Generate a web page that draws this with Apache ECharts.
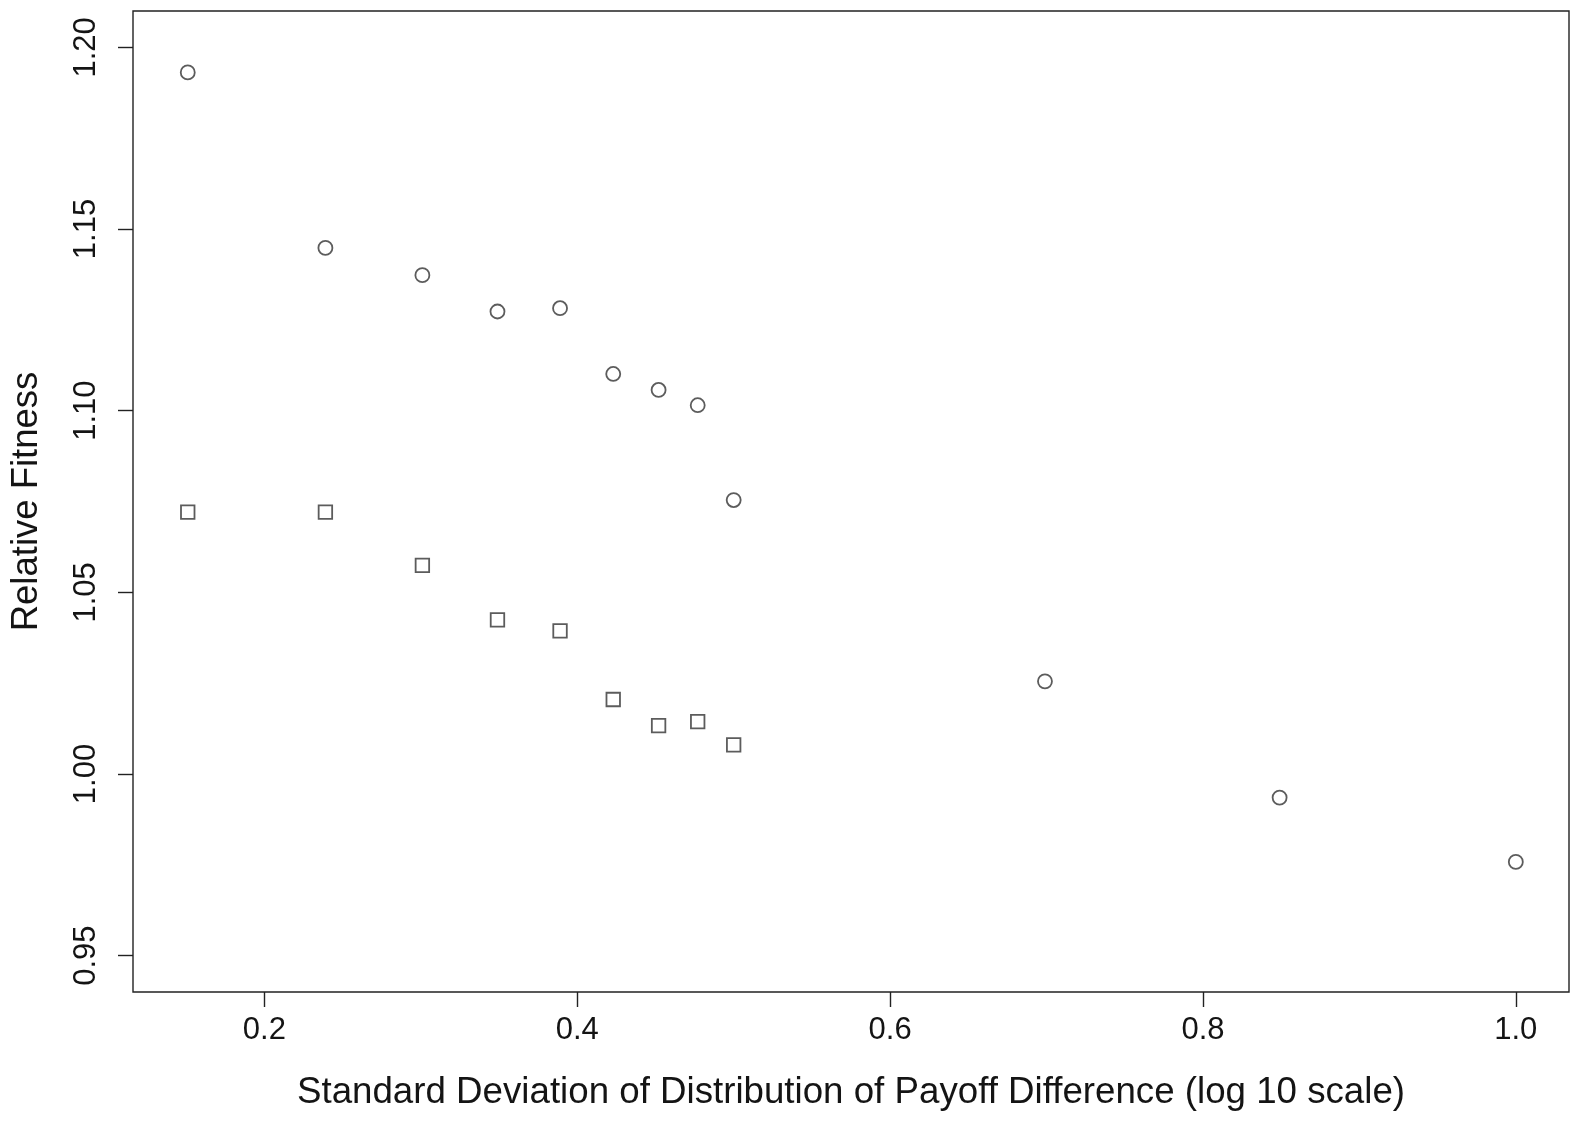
<!DOCTYPE html>
<html>
<head>
<meta charset="utf-8">
<script src="https://cdn.jsdelivr.net/npm/echarts@6/dist/echarts.min.js"></script>
<style>
html,body{margin:0;padding:0;background:#fff;}
#chart{width:1582px;height:1122px;}
</style>
</head>
<body>
<div id="chart"></div>
<script>
// x: standard deviation (log10 scale)
const circleX = [0.151, 0.239, 0.301, 0.349, 0.389, 0.423, 0.452, 0.477, 0.500, 0.699, 0.849, 1.000];
const circleY = [1.1931, 1.1448, 1.1373, 1.1273, 1.1282, 1.1101, 1.1057, 1.1015, 1.0754, 1.0255, 0.9935, 0.9758];
const squareX = [0.151, 0.239, 0.301, 0.349, 0.389, 0.423, 0.452, 0.477, 0.500];
const squareY = [1.0721, 1.0721, 1.0574, 1.0424, 1.0394, 1.0205, 1.0133, 1.0144, 1.0080];
const xTicks = [0.2, 0.4, 0.6, 0.8, 1.0];
const yTicks = [0.95, 1.00, 1.05, 1.10, 1.15, 1.20];

const FONT = '"Liberation Sans", Arial, Helvetica, sans-serif';
const ink = '#141414';

const chart = echarts.init(document.getElementById('chart'), null, {renderer: 'canvas'});
chart.setOption({
  animation: false,
  backgroundColor: '#fff',
  grid: {
    left: 131, top: 11, right: 13, bottom: 130,
    show: true, borderColor: '#222', borderWidth: 1.4, backgroundColor: 'transparent'
  },
  xAxis: {
    type: 'value', min: 0.116, max: 1.034,
    name: 'Standard Deviation of Distribution of Payoff Difference (log 10 scale)',
    nameLocation: 'middle', nameGap: 82,
    nameTextStyle: {fontFamily: FONT, fontSize: 36.7, color: ink},
    axisLine: {show: false},
    splitLine: {show: false},
    axisTick: {show: true, length: 15, inside: false, customValues: xTicks, lineStyle: {color: '#222', width: 1.4}},
    axisLabel: {
      customValues: xTicks, margin: 23, fontFamily: FONT, fontSize: 31, color: ink,
      formatter: v => v.toFixed(1)
    }
  },
  yAxis: {
    type: 'value', min: 0.94, max: 1.21,
    name: 'Relative Fitness', nameLocation: 'middle', nameGap: 88, nameRotate: 90,
    nameTextStyle: {fontFamily: FONT, fontSize: 36.5, color: ink},
    axisLine: {show: false},
    splitLine: {show: false},
    axisTick: {show: true, length: 15, inside: false, customValues: yTicks, lineStyle: {color: '#222', width: 1.4}},
    axisLabel: {
      customValues: yTicks, rotate: 90, margin: 31, fontFamily: FONT, fontSize: 31, color: ink,
      formatter: v => v.toFixed(2)
    }
  },
  series: [
    {
      type: 'scatter', symbol: 'circle', symbolSize: 14,
      data: circleX.map((x, i) => [x, circleY[i]]),
      itemStyle: {color: 'rgba(0,0,0,0)', borderColor: '#333', borderWidth: 1.8}
    },
    {
      type: 'scatter', symbol: 'rect', symbolSize: 13.5,
      data: squareX.map((x, i) => [x, squareY[i]]),
      itemStyle: {color: 'rgba(0,0,0,0)', borderColor: '#333', borderWidth: 1.8}
    }
  ]
});
</script>
</body>
</html>
